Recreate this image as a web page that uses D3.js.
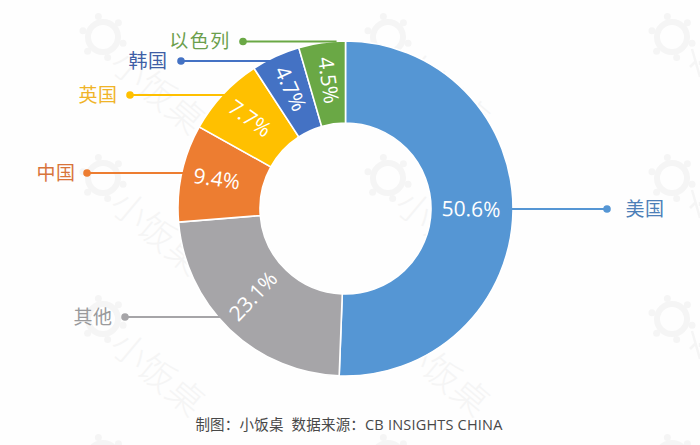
<!DOCTYPE html>
<html><head><meta charset="utf-8">
<script src="https://cdn.jsdelivr.net/npm/d3@7"></script>
<style>html,body{margin:0;padding:0;background:#fefefe}svg{display:block}</style>
</head><body><div id="c"></div>
<script>
const categories = ["美国","其他","中国","英国","韩国","以色列"];
const values = [50.6,23.1,9.4,7.7,4.7,4.5];
const valueLabels = ["50.6%","23.1%","9.4%","7.7%","4.7%","4.5%"];
const colors = ["#5596d4","#a6a5a8","#ed7d31","#ffc000","#4472c4","#6aa845"];
const labelColors = ["#4d7fb8","#9a9a9c","#d8743a","#f0b428","#3f5ea6","#6c9f4c"];
const source = "制图：小饭桌  数据来源：CB INSIGHTS CHINA";
const watermarkText = "小饭桌";

const W=700,H=445,cx=345.5,cy=208.5,R=167.5,r=85.5;
const FONT='"Open Sans","Noto Sans CJK SC",sans-serif';
const CJK='"Noto Sans CJK SC",sans-serif';
const WM="#f5f5f5";
const svg=d3.select("#c").append("svg").attr("width",W).attr("height",H);

// faint watermark
const wm=svg.append("g").attr("fill","none");
d3.cross([103,388,672],[37,178,319,458]).forEach(([x,y])=>{
  const g=wm.append("g").attr("transform",`translate(${x},${y})`);
  g.append("circle").attr("r",15).attr("stroke",WM).attr("stroke-width",6);
  d3.range(6).forEach(i=>{
    const a=i*Math.PI/3+0.3;
    g.append("circle").attr("cx",21*Math.cos(a)).attr("cy",21*Math.sin(a)).attr("r",3.5).attr("fill",WM);
  });
  if(y>400) return;
  if(x<600){
    g.append("text").attr("transform","translate(14,19) rotate(40)").attr("y",14)
     .attr("font-family",CJK).attr("font-size",36).attr("font-weight",300)
     .attr("fill",WM).text(watermarkText);
  } else {
    g.append("path").attr("d","M18,30 L24,24 M20,12 L28,40 M28,24 L28,28").attr("stroke",WM).attr("stroke-width",2.5);
  }
});

const pie=d3.pie().sort(null).value(d=>d)(values);
const arc=d3.arc().innerRadius(r).outerRadius(R);
const root=svg.append("g").attr("transform",`translate(${cx},${cy})`);

// leader lines: row, dot position, and label centre for each category
const leaderY=[209,317,173,95,61,41.5];
const dotX=[607,125,87,130,181,243];
const labelX=[645,93,56,98,148,200];
const lead=svg.append("g");
categories.forEach((c,i)=>{
  const dy=leaderY[i]-cy, edge=Math.sqrt(R*R-dy*dy)-4;
  const x2=cx+(i===0?edge:-edge);
  lead.append("line").attr("x1",dotX[i]).attr("x2",x2).attr("y1",leaderY[i]).attr("y2",leaderY[i])
    .attr("stroke",colors[i]).attr("stroke-width",1.8);
  lead.append("circle").attr("cx",dotX[i]).attr("cy",leaderY[i]).attr("r",3.8).attr("fill",colors[i]);
  lead.append("text").attr("x",labelX[i]).attr("y",leaderY[i]).attr("dy","0.36em")
    .attr("text-anchor","middle").attr("font-family",CJK).attr("font-size",19)
    .attr("letter-spacing",i===5?"1.5px":"0.5px")
    .attr("fill",labelColors[i]).text(c);
});

root.selectAll("path").data(pie).join("path").attr("d",arc)
  .attr("fill",(d,i)=>colors[i]).attr("stroke","#fff").attr("stroke-width",1.6);

// nudges of the value labels from the ring's centroid
const labelDx=[-1,-5,-5,-3,-2,1];
const labelDy=[-2,-4,-3,-4,-5,-3];
const labelTurn=[0,0,-4,-7,0,0];
root.selectAll("text.v").data(pie).join("text").attr("class","v")
  .attr("transform",(d,i)=>{
    const [x,y]=arc.centroid(d);
    const m=(d.startAngle+d.endAngle)/2*180/Math.PI;
    const rot=(m<180?m-90:m-270)+labelTurn[i];
    return `translate(${x+labelDx[i]},${y+labelDy[i]}) rotate(${rot})`;
  })
  .attr("text-anchor","middle").attr("dy","0.36em")
  .attr("font-family",FONT).attr("font-size",21).attr("fill","#fff")
  .text((d,i)=>valueLabels[i]);

svg.append("text").attr("x",349).attr("y",430).attr("text-anchor","middle")
  .attr("font-family",FONT).attr("font-size",14.5).attr("letter-spacing","0.2px")
  .attr("fill","#484848").attr("xml:space","preserve").text(source);
</script></body></html>
